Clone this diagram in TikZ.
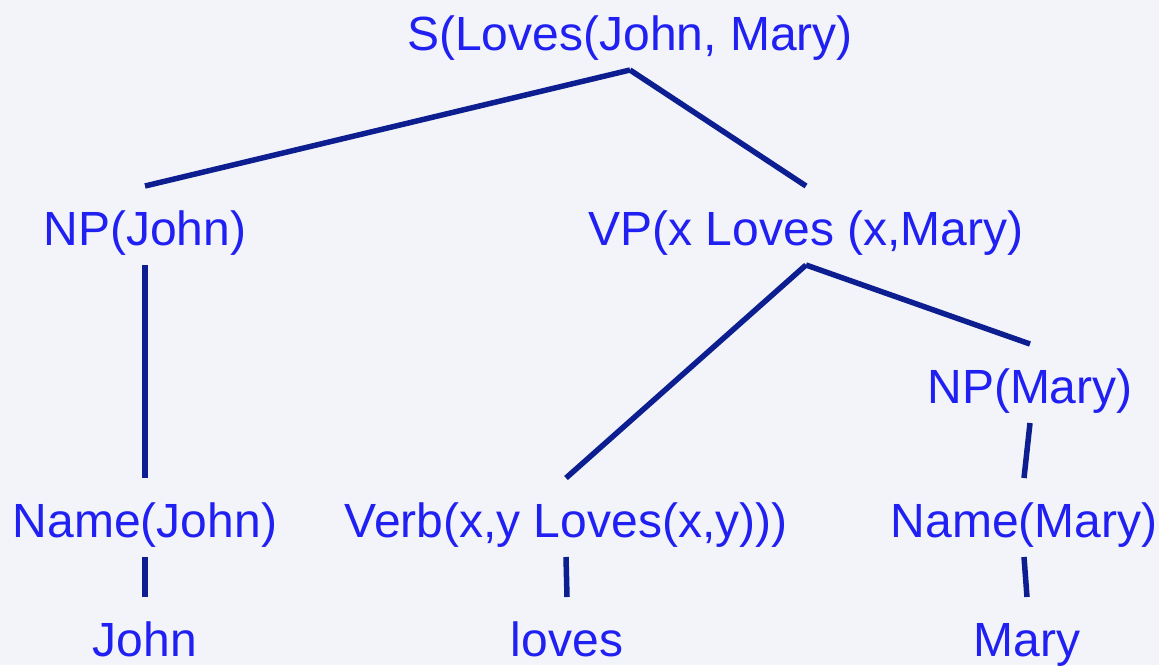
\documentclass[tikz,border=0pt]{standalone}
\usepackage{fontspec}
\setmainfont{Liberation Sans}
\usepackage{xcolor}
\usepackage{tikz}
\definecolor{bgcol}{HTML}{F3F4F9}
\definecolor{textblue}{HTML}{2020F2}
\definecolor{linenavy}{HTML}{0C1E90}

\begin{document}
\begin{tikzpicture}[x=1pt, y=-1pt,
    word/.style={anchor=base, inner sep=0pt, outer sep=0pt, text height=59pt, text depth=20pt,
                 text=textblue, font=\fontsize{48}{58}\selectfont},
    branch/.style={draw=linenavy, line width=5.5pt}]

        % Background
        \fill[bgcol] (0,0) rectangle (1159,665);
        \useasboundingbox (0,0) rectangle (1159,665);

        % Nodes
        \node (S) [word] at (630,50) {S(Loves(John, Mary)};
        \node (NPJ) [word] at (145,245) {NP(John)};
        \node (VP) [word] at (806,245) {VP(x Loves (x,Mary)};
        \node (NPM) [word] at (1030,403) {NP(Mary)};
        \node (NameJ) [word] at (145,537) {Name(John)};
        \node (Verb) [word] at (566,537) {Verb(x,y Loves(x,y)))};
        \node (NameM) [word] at (1024,537) {Name(Mary)};
        \node (John) [word] at (145,656) {John};
        \node (loves) [word] at (567,656) {loves};
        \node (Mary) [word] at (1027,656) {Mary};

        % Branches
        \draw[branch] (S.south) -- (NPJ.north);
        \draw[branch] (S.south) -- (VP.north);
        \draw[branch] (NPJ.south) -- (NameJ.north);
        \draw[branch] (VP.south) -- (Verb.north);
        \draw[branch] (VP.south) -- (NPM.north);
        \draw[branch] (NPM.south) -- (NameM.north);
        \draw[branch] (NameJ.south) -- (John.north);
        \draw[branch] (Verb.south) -- (loves.north);
        \draw[branch] (NameM.south) -- (Mary.north);

      \end{tikzpicture}
\end{document}
